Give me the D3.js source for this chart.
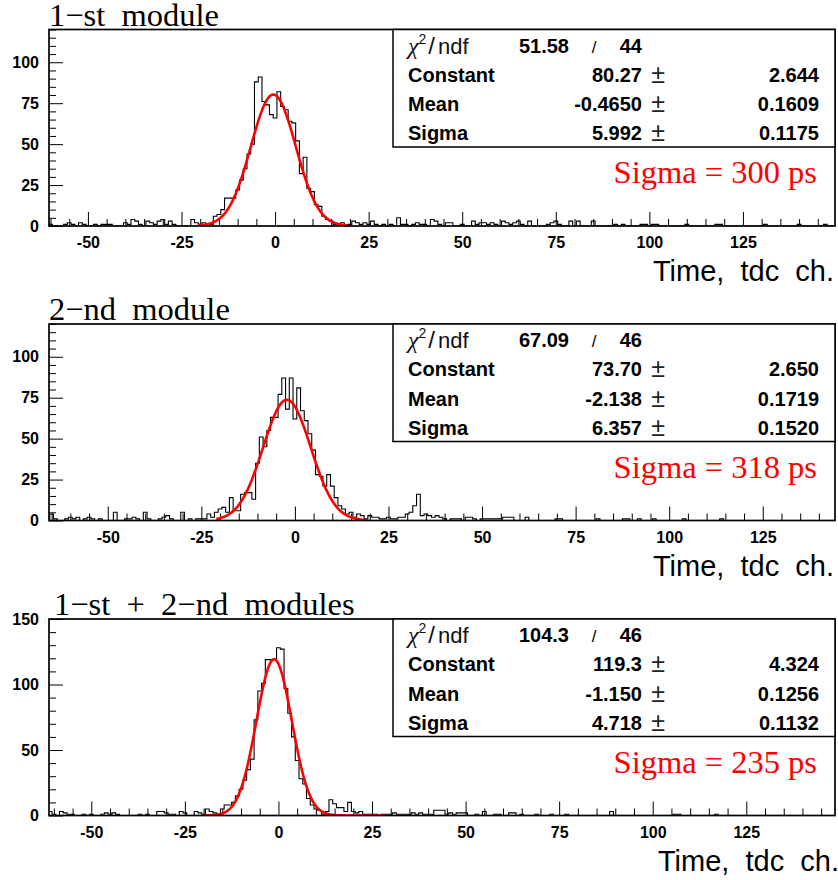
<!DOCTYPE html>
<html><head><meta charset="utf-8">
<script src="https://cdn.jsdelivr.net/npm/d3@7"></script>
<style>body{margin:0;background:#fff} svg{display:block}</style>
</head><body><svg id="c" width="838" height="880"></svg>
<script>
// ---------------- data ----------------
const titles = ["1\u2212st  module", "2\u2212nd  module", "1\u2212st  +  2\u2212nd  modules"];
const sigmaLabels = ["Sigma = 300 ps", "Sigma = 318 ps", "Sigma = 235 ps"];
const xLabel = "Time,  tdc  ch.";
const xDomains = [[-60.4, 149.6], [-65.7, 144.3], [-61.3, 148.7]];
const yMaxes = [120, 120, 150];
const xMajorTicks = [-50, -25, 0, 25, 50, 75, 100, 125];
const yMajorTicks = [[0, 25, 50, 75, 100], [0, 25, 50, 75, 100], [0, 50, 100, 150]];
const yMinorSteps = [5, 5, 10];
const binStarts = [-60, -65, -61];

const counts1 = [
 1,0,0,0,1,2,1,0,2,1,  0,0,1,0,1,1,1,0,0,0,  2,1,4,3,1,0,3,2,1,3,  4,1,3,1,0,0,0,0,4,2,
 1,2,0,1,6,7,10,17,17,17,  22,28,35,44,50,88,91,76,74,68,  66,82,73,71,64,63,52,32,42,23,
 21,13,12,6,4,3,1,0,2,0,  1,3,2,1,2,1,3,1,0,1,  0,1,0,5,1,1,0,1,2,1,  1,0,4,3,1,0,2,2,0,0,
 1,0,0,3,1,2,2,1,2,1,  0,3,2,1,2,3,1,0,3,0,  0,0,0,1,2,3,1,0,0,3,  0,3,0,0,0,3,0,0,0,0,
 0,1,0,1,0,0,0,0,1,1,  0,1,1,0,0,0,0,0,0,0,  1,0,0,0,0,0,0,0,1,1,  0,0,0,0,0,0,0,0,0,0,
 0,1,0,0,0,0,0,0,0,0,  1,0,0,0,0,0,0,1,0,0];
const counts2 = [
 4,1,0,0,1,2,1,2,0,1,  2,1,0,1,0,0,0,5,0,0,  1,1,2,1,0,5,1,0,0,1,  2,3,1,0,0,5,0,1,0,1,
 1,1,4,2,5,7,8,5,14,6,  6,16,17,17,13,35,51,45,55,63,  63,77,87,68,87,62,81,67,61,53,
 43,28,27,21,28,21,14,9,7,4,  5,2,4,3,1,3,2,2,1,1,  2,1,1,2,2,4,5,9,16,3,  4,3,2,3,2,1,0,1,1,1,
 0,2,2,1,0,1,1,1,1,1,  1,2,2,2,0,0,0,2,0,0,  0,0,0,0,0,1,1,0,0,0,  0,0,0,0,0,0,1,0,0,0,
 0,0,0,1,1,0,0,1,0,0,  0,1,0,0,0,0,0,0,0,1,  0,0,0,0,0,0,0,0,0,1,  0,0,0,0,0,0,0,0,0,0,
 0,0,0,0,0,0,0,0,0,0,  0,0,0,0,0,0,0,0,0,0];
const counts3 = [
 3,1,0,3,2,1,1,0,0,1,  0,1,0,0,1,2,1,2,1,0,  0,0,0,0,1,0,1,0,0,3,  3,2,1,1,0,3,2,0,0,3,
 2,1,5,3,2,1,5,8,8,10,  15,20,27,35,43,73,95,101,119,119,  119,128,127,97,78,60,42,28,24,13,
 8,5,4,1,3,12,9,6,6,3,  10,3,2,3,1,1,1,1,0,1,  1,1,2,1,1,1,1,2,1,2,  1,1,1,4,4,4,1,2,1,2,
 2,2,0,0,1,0,3,0,0,1,  1,0,0,2,2,0,1,0,0,0,  1,0,0,0,1,0,0,0,1,0,  0,0,0,0,0,0,0,0,0,0,
 3,0,0,0,0,0,0,0,0,0,  0,0,0,0,0,0,0,1,1,0,  0,0,0,0,0,0,0,0,1,0,  0,0,0,0,0,0,0,0,0,0,
 0,0,0,0,0,0,0,0,0,0,  0,0,0,0,0,0,0,0,0,0];
const allCounts = [counts1, counts2, counts3];

// fit results (Gaussian): constant, mean, sigma, fit range
const fitConst = [80.27, 73.70, 119.3];
const fitMean = [-0.4650, -2.138, -1.150];
const fitSigma = [5.992, 6.357, 4.718];
const fitRanges = [[-20.5, 19.5], [-21, 19.5], [-20.5, 29]];

// stats box texts
const chi2Vals = ["51.58", "67.09", "104.3"];
const ndfVals = ["44", "46", "46"];
const statNames = ["Constant", "Mean", "Sigma"];
const statValues = [["80.27", "-0.4650", "5.992"], ["73.70", "-2.138", "6.357"], ["119.3", "-1.150", "4.718"]];
const statErrors = [["2.644", "0.1609", "0.1175"], ["2.650", "0.1719", "0.1520"], ["4.324", "0.1256", "0.1132"]];

// ---------------- layout ----------------
const L = 49, R = 835, H = 196.5;
const tops = [29.5, 324, 619];
const titleX = [49, 49, 54];
const xLabelRight = [834, 834, 839];
const sans = "'Liberation Sans', Arial, Helvetica, sans-serif";
const serif = "'Liberation Serif', 'Times New Roman', Times, serif";

const svg = d3.select("#c");
svg.append("rect").attr("width", 838).attr("height", 880).attr("fill", "#fff");

for (let p = 0; p < 3; p++) {
  const top = tops[p], bottom = top + H;
  const x = d3.scaleLinear().domain(xDomains[p]).range([L, R]);
  const y = d3.scaleLinear().domain([0, yMaxes[p]]).range([bottom, top]);
  const g = svg.append("g");

  const clipId = "clip" + p;
  g.append("clipPath").attr("id", clipId)
    .append("rect").attr("x", L).attr("y", top).attr("width", R - L).attr("height", H);

  // title
  g.append("text").attr("x", titleX[p]).attr("y", top - 4)
    .attr("font-family", serif).attr("font-size", 32.5).style("white-space", "pre")
    .attr("fill", "#000").text(titles[p]);

  // ticks: x
  const [x0, x1] = xDomains[p];
  const xMinor = d3.range(Math.ceil(x0 / 5) * 5, x1, 5).filter(v => !xMajorTicks.includes(v));
  const xMaj = xMajorTicks.filter(v => v > x0 && v < x1);
  const gxMinor = g.append("g").attr("transform", `translate(0,${bottom})`)
    .call(d3.axisBottom(x).tickValues(xMinor).tickSize(-7).tickFormat(""));
  const gx = g.append("g").attr("transform", `translate(0,${bottom})`)
    .call(d3.axisBottom(x).tickValues(xMaj).tickSize(-14).tickPadding(11).tickFormat(d3.format("d")));
  // ticks: y
  const yMinor = d3.range(0, yMaxes[p] + 0.01, yMinorSteps[p]).filter(v => !yMajorTicks[p].includes(v));
  const gyMinor = g.append("g").attr("transform", `translate(${L},0)`)
    .call(d3.axisLeft(y).tickValues(yMinor).tickSize(-7).tickFormat(""));
  const gy = g.append("g").attr("transform", `translate(${L},0)`)
    .call(d3.axisLeft(y).tickValues(yMajorTicks[p]).tickSize(-14).tickPadding(10).tickFormat(d3.format("d")));
  [gxMinor, gx, gyMinor, gy].forEach(a => {
    a.select(".domain").remove();
    a.selectAll("line").attr("stroke", "#000").attr("stroke-width", 1);
    a.selectAll("text").attr("font-family", sans).attr("font-weight", "bold")
      .attr("font-size", 16).attr("fill", "#000");
  });
  gx.selectAll("text").text(d => d < 0 ? "-" + Math.abs(d) : d);

  // histogram
  const counts = allCounts[p];
  const pts = [];
  const lo0 = binStarts[p] - 0.5;
  pts.push([lo0, 0]);
  counts.forEach((c, i) => {
    const lo = binStarts[p] + i - 0.5;
    pts.push([lo, c]); pts.push([lo + 1, c]);
  });
  pts.push([binStarts[p] + counts.length - 0.5, 0]);
  g.append("path").attr("clip-path", `url(#${clipId})`)
    .attr("d", d3.line().x(d => x(d[0])).y(d => y(d[1]))(pts))
    .attr("fill", "none").attr("stroke", "#000").attr("stroke-width", 1.1);

  // fit curve
  const gauss = u => fitConst[p] * Math.exp(-0.5 * Math.pow((u - fitMean[p]) / fitSigma[p], 2));
  const fx = d3.range(fitRanges[p][0], fitRanges[p][1] + 0.001, 0.1);
  g.append("path").attr("clip-path", `url(#${clipId})`)
    .attr("d", d3.line().x(u => x(u)).y(u => y(gauss(u)))(fx))
    .attr("fill", "none").attr("stroke", "#ff0000").attr("stroke-width", 2.6)
    .attr("stroke-linejoin", "round");

  // frame
  g.append("rect").attr("x", L).attr("y", top).attr("width", R - L).attr("height", H)
    .attr("fill", "none").attr("stroke", "#000").attr("stroke-width", 1.7);

  // stats box
  const bx = 393, bh = 117.5;
  g.append("rect").attr("x", bx).attr("y", top).attr("width", R - bx).attr("height", bh)
    .attr("fill", "#fff").attr("stroke", "#000").attr("stroke-width", 1.5);
  const rowY = i => top + 23 + 29.3 * i;
  // chi2 row
  const chi = g.append("text").attr("x", 408).attr("y", rowY(0) + 1).attr("font-family", sans)
    .attr("font-size", 22).attr("fill", "#111");
  chi.append("tspan").attr("font-family", serif).attr("font-style", "italic").attr("font-size", 24).text("\u03C7");
  chi.append("tspan").attr("font-size", 14).attr("dy", -10).text("2");
  chi.append("tspan").attr("dy", 10).attr("dx", 2).attr("font-size", 24).attr("font-weight", 300).text("/");
  chi.append("tspan").attr("dx", 3).text("ndf");
  g.append("text").attr("x", 569).attr("y", rowY(0)).attr("text-anchor", "end")
    .attr("font-family", sans).attr("font-weight", "bold").attr("font-size", 20).text(chi2Vals[p]);
  g.append("text").attr("x", 594).attr("y", rowY(0)).attr("text-anchor", "middle")
    .attr("font-family", sans).attr("font-size", 17).text("/");
  g.append("text").attr("x", 642).attr("y", rowY(0)).attr("text-anchor", "end")
    .attr("font-family", sans).attr("font-weight", "bold").attr("font-size", 20).text(ndfVals[p]);
  statNames.forEach((nm, i) => {
    const yy = rowY(i + 1);
    g.append("text").attr("x", 408).attr("y", yy).attr("font-family", sans)
      .attr("font-weight", "bold").attr("font-size", 20).text(nm);
    g.append("text").attr("x", 642).attr("y", yy).attr("text-anchor", "end").attr("font-family", sans)
      .attr("font-weight", "bold").attr("font-size", 20).text(statValues[p][i]);
    g.append("text").attr("x", 658).attr("y", yy + 1).attr("text-anchor", "middle").attr("font-family", sans)
      .attr("font-size", 25).attr("fill", "#222").text("\u00B1");
    g.append("text").attr("x", 819).attr("y", yy).attr("text-anchor", "end").attr("font-family", sans)
      .attr("font-weight", "bold").attr("font-size", 20).text(statErrors[p][i]);
  });

  // red sigma label
  g.append("text").attr("x", 817).attr("y", top + 153.5).attr("text-anchor", "end")
    .attr("font-family", serif).attr("font-size", 32.5).attr("fill", "#ff0000").text(sigmaLabels[p]);

  // x axis title
  g.append("text").attr("x", xLabelRight[p]).attr("y", bottom + 55).attr("text-anchor", "end")
    .attr("font-family", sans).attr("font-size", 29).style("white-space", "pre")
    .attr("fill", "#000").text(xLabel);
}
</script>
</body></html>
